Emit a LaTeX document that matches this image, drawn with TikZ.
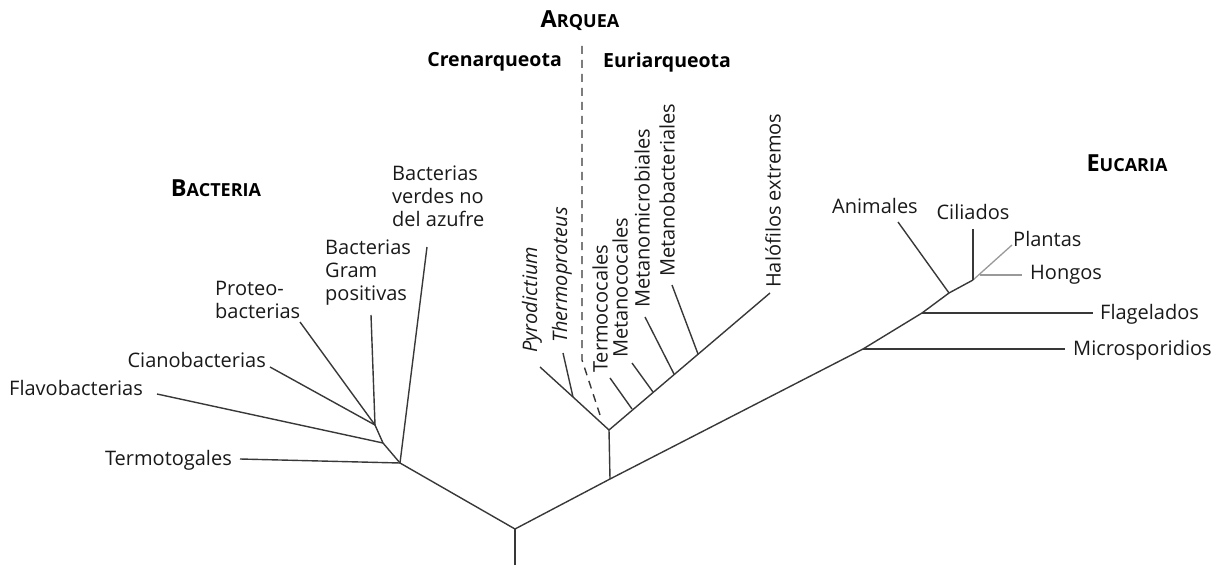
\documentclass[tikz,border=0pt]{standalone}
\usepackage{fontspec}
\setmainfont{Open Sans}
\tikzset{
  br/.style={draw=black!78, line width=1.4pt},
  lbr/.style={draw=black!40, line width=1.3pt},
  dsh/.style={draw=black!78, line width=1.4pt, dash pattern=on 8pt off 6pt},
  lab/.style={font=\fontsize{20}{23}\selectfont, inner sep=1pt, text=black!90},
  ilab/.style={font=\fontsize{20}{23}\selectfont\itshape, inner sep=1pt, text=black!90},
  hdr/.style={font=\bfseries, inner sep=1pt, text=black},
}
\newcommand{\bigsc}[2]{{\fontsize{23.5}{25}\selectfont #1}{\fontsize{18}{20}\selectfont #2}}
\begin{document}
\begin{tikzpicture}[x=1pt,y=-1pt]
\path[use as bounding box] (0,0) rectangle (1221,567);
% root
\coordinate (bot) at (515,565);
\coordinate (root) at (515,529);
\coordinate (b0) at (400,463);
\coordinate (b1) at (383,443);
\coordinate (b2) at (375,425);
\coordinate (a0) at (610,479);
\coordinate (a1) at (609,430);
\coordinate (e1) at (863,349);
\coordinate (e2) at (922,313);
\coordinate (e3) at (949,293);
\coordinate (e4) at (973,280);
\coordinate (e5) at (980,275);
\coordinate (etip) at (1012,245);
% bacteria tips
\coordinate (tTer) at (240,459);
\coordinate (tFla) at (157,394);
\coordinate (tCia) at (270,367);
\coordinate (tPro) at (300,322);
\coordinate (tGra) at (371,315);
\coordinate (tVer) at (427,247);
% archaea
\coordinate (cre) at (573,397);
\coordinate (tPyr) at (540,367);
\coordinate (tThe) at (563,353);
\coordinate (j1) at (632,409);
\coordinate (j2) at (653,392);
\coordinate (j3) at (674,374);
\coordinate (j4) at (698,354);
\coordinate (tHal) at (770,293);
\coordinate (tTmc) at (610,378);
\coordinate (tMnc) at (632,363);
\coordinate (tMnm) at (645,317);
\coordinate (tMnb) at (672,285);
\coordinate (d0) at (582,46);
\coordinate (d1) at (582,360);
\coordinate (d2) at (600,415);
% eukarya tips
\coordinate (tMic) at (1065,349);
\coordinate (tFlg) at (1093,313);
\coordinate (tAni) at (898,222);
\coordinate (tCil) at (973,229);
\coordinate (tHon) at (1022,275);

% main tree
\draw[br] (bot) -- (root);
\draw[br] (root) -- (b0) -- (b1) -- (b2);
\draw[br] (root) -- (a0) -- (e1) -- (e2) -- (e3) -- (e4);
\draw[lbr] (e4) -- (etip);
\draw[lbr] (e5) -- (tHon);
\draw[br] (e1) -- (tMic);
\draw[br] (e2) -- (tFlg);
\draw[br] (e3) -- (tAni);
\draw[br] (e4) -- (tCil);
% bacteria branches
\draw[br] (b0) -- (tTer);
\draw[br] (b0) -- (tVer);
\draw[br] (b1) -- (tFla);
\draw[br] (b2) -- (tCia);
\draw[br] (b2) -- (tPro);
\draw[br] (b2) -- (tGra);
% archaea
\draw[br] (a0) -- (a1);
\draw[br] (a1) -- (cre) -- (tPyr);
\draw[br] (cre) -- (tThe);
\draw[br] (a1) -- (tHal);
\draw[br] (j1) -- (tTmc);
\draw[br] (j2) -- (tMnc);
\draw[br] (j3) -- (tMnm);
\draw[br] (j4) -- (tMnb);
\draw[dsh] (d0) -- (d1) -- (d2);

% bacteria labels
\node[hdr] (hB) at (216,188) {\bigsc{B}{ACTERIA}};
\node[lab, anchor=east] (lTer) at (233,460) {Termotogales};
\node[lab, anchor=west] (lFla) at (8,388) {Flavobacterias};
\node[lab, anchor=east] (lCia) at (267,360) {Cianobacterias};
\node[lab, anchor=west, align=left] (lPro) at (214,300) {Proteo-\\bacterias};
\node[lab, anchor=west, align=left] (lGra) at (324,273) {Bacterias\\Gram\\positivas};
\node[lab, anchor=west, align=left] (lVer) at (391,196) {Bacterias\\verdes no\\del azufre};

% archaea labels
\node[hdr] (hA) at (580,21) {\bigsc{A}{RQUEA}};
\node[hdr, anchor=east, font=\fontsize{19.5}{22}\selectfont\bfseries] (hC) at (563,62) {Crenarqueota};
\node[hdr, anchor=west, font=\fontsize{19.5}{22}\selectfont\bfseries] (hE) at (602,62) {Euriarqueota};
\node[ilab, rotate=90, anchor=west] (lPyr) at (532,354) {Pyrodictium};
\node[ilab, rotate=90, anchor=west] (lThe) at (562,344) {Thermoproteus};
\node[lab, rotate=90, anchor=west] (lTmc) at (600,374) {Termococales};
\node[lab, rotate=90, anchor=west] (lMnc) at (620,359) {Metanococales};
\node[lab, rotate=90, anchor=west] (lMnm) at (642,309) {Metanomicrobiales};
\node[lab, rotate=90, anchor=west] (lMnb) at (667,278) {Metanobacteriales};
\node[lab, rotate=90, anchor=west] (lHal) at (773,289) {Halófilos extremos};

% eukarya labels
\node[hdr] (hU) at (1127,163) {\bigsc{E}{UCARIA}};
\node[lab] (lAni) at (875,206) {Animales};
\node[lab] (lCil) at (973,212) {Ciliados};
\node[lab, anchor=west] (lPla) at (1012,239) {Plantas};
\node[lab, anchor=west] (lHon) at (1029,275) {Hongos};
\node[lab, anchor=west] (lFlg) at (1099,314) {Flagelados};
\node[lab, anchor=west] (lMic) at (1072,350) {Microsporidios};
\end{tikzpicture}
\end{document}
